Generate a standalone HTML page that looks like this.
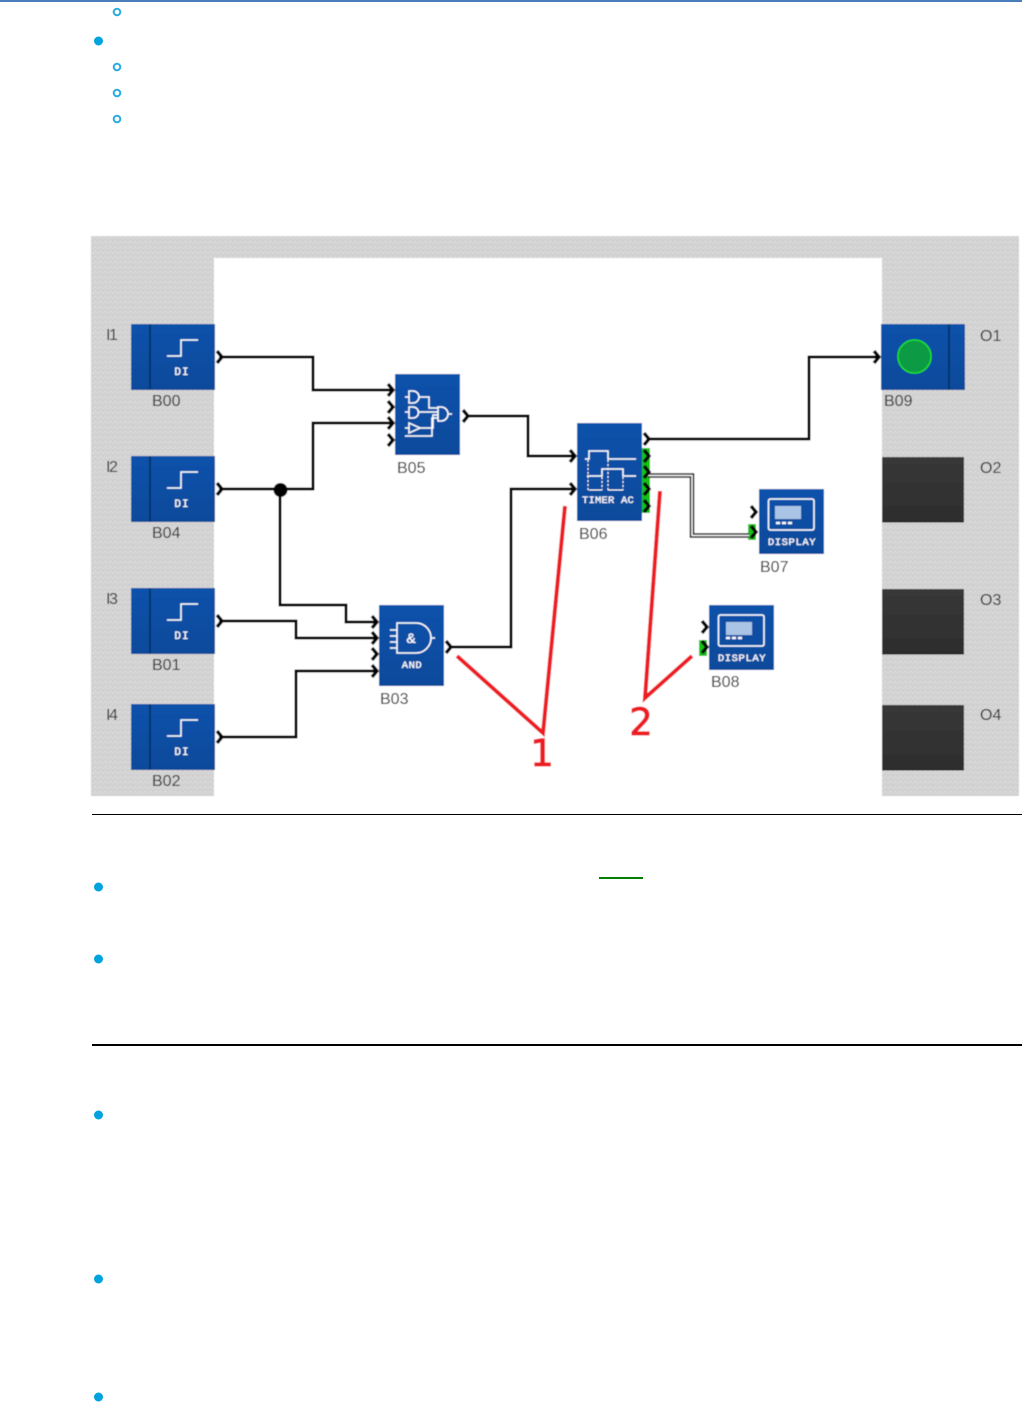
<!DOCTYPE html>
<html>
<head>
<meta charset="utf-8">
<style>
html,body{margin:0;padding:0;background:#fff;width:1022px;height:1405px;overflow:hidden}
svg{display:block}
.lb{font:16px "Liberation Sans",sans-serif;fill:#2a2a2a}
.ic{font:11px "Liberation Mono",monospace;fill:#fff;stroke:#fff;stroke-width:.25;text-anchor:middle;letter-spacing:1px}
.w{fill:none;stroke:#000;stroke-width:3;stroke-linejoin:miter}
.c{fill:none;stroke:#000;stroke-width:3.4}
.i{fill:none;stroke:#fff;stroke-width:1.5}
.s{fill:none;stroke:#06366f;stroke-width:2}
.r{fill:none;stroke:#ed1c24;stroke-width:4;stroke-linejoin:miter}
.d{font:37px "DejaVu Sans",sans-serif;fill:#ed1c24;stroke:#ed1c24;stroke-width:1;text-anchor:middle}
</style>
</head>
<body>
<svg width="1022" height="1405" viewBox="0 0 1022 1405" xmlns="http://www.w3.org/2000/svg">
<defs>
<pattern id="n" width="5" height="5" patternUnits="userSpaceOnUse">
<rect width="5" height="5" fill="#d3d3d3"/>
<rect x="0" y="1" width="1" height="1" fill="#e6e6e6"/>
<rect x="3" y="3" width="1" height="1" fill="#e2e2e2"/>
<rect x="2" y="0" width="1" height="1" fill="#c6c6c6"/>
<rect x="4" y="4" width="1" height="1" fill="#c4c4c4"/>
</pattern>
<linearGradient id="b" x1="0" y1="0" x2="0" y2="1">
<stop offset="0" stop-color="#0a52ab"/>
<stop offset="1" stop-color="#0b4a9b"/>
</linearGradient>
<linearGradient id="k" x1="0" y1="0" x2="0" y2="1">
<stop offset="0" stop-color="#383838"/>
<stop offset="1" stop-color="#2d2d2d"/>
</linearGradient>
<filter id="soft" filterUnits="userSpaceOnUse" x="80" y="226" width="942" height="580">
<feGaussianBlur stdDeviation="0.4"/>
</filter>
</defs>

<rect x="0" y="0" width="1022" height="2" fill="#4a7ebb"/>

<!-- bullets -->
<g fill="none" stroke="#29abe2" stroke-width="2">
<circle cx="117" cy="12" r="3.3"/>
<circle cx="117" cy="67" r="3.3"/>
<circle cx="117" cy="93" r="3.3"/>
<circle cx="117" cy="119" r="3.3"/>
</g>
<g fill="#00a3e0">
<circle cx="98.500" cy="41" r="4.500"/>
<circle cx="98.500" cy="887" r="4.500"/>
<circle cx="98.500" cy="959" r="4.500"/>
<circle cx="98.500" cy="1115" r="4.500"/>
<circle cx="98.500" cy="1279" r="4.500"/>
<circle cx="98.500" cy="1397" r="4.500"/>
</g>

<g filter="url(#soft)">
<!-- panel -->
<rect x="91" y="236" width="928" height="560" fill="url(#n)"/>
<rect x="214" y="258" width="668" height="538" fill="#fff"/>

<!-- blocks -->
<g fill="url(#b)">
<rect x="131" y="324" width="84" height="66"/>
<rect x="131" y="456" width="84" height="66"/>
<rect x="131" y="588" width="84" height="66"/>
<rect x="131" y="704" width="84" height="66"/>
<rect x="395" y="374" width="65" height="81"/>
<rect x="379" y="605" width="65" height="81"/>
<rect x="577" y="423" width="65" height="98"/>
<rect x="759" y="489" width="65" height="65"/>
<rect x="709" y="605" width="65" height="65"/>
<rect x="881" y="324" width="84" height="66"/>
</g>
<path class="s" d="M150,324V390M150,456V522M150,588V654M150,704V770M949,324V390"/>
<path class="i" d="M167,356H181V340H198M167,488H181V472H198M167,620H181V604H198M167,736H181V720H198"/>
<text class="ic" x="182" y="375">DI</text>
<text class="ic" x="182" y="507">DI</text>
<text class="ic" x="182" y="639">DI</text>
<text class="ic" x="182" y="755">DI</text>

<!-- output dark blocks -->
<g fill="url(#k)">
<rect x="882" y="457" width="82" height="65"/>
<rect x="882" y="589" width="82" height="65"/>
<rect x="882" y="705" width="82" height="65"/>
</g>
<path d="M882,522H964M882,654H964M882,770H964" stroke="#111" stroke-width="1"/>

<!-- lamp -->
<circle cx="914.500" cy="356.500" r="16.500" fill="#0e9a45" stroke="#1fe01f" stroke-width="1.500"/>

<!-- B05 icon -->
<path class="i" d="M405,397H409M405,412H409M405,428H409M409,391H413A6,6 0 0 1 413,403H409ZM409,407H413A5.500,5.500 0 0 1 413,418H409ZM409,423V433L420,428Z"/>
<path class="i" d="M419,397H429V408H438M419,412H438M420,428H433V415H438M405,436H432V418H438M438,407H441A7,7 0 0 1 441,421H438ZM448,414H452"/>

<!-- B03 icon -->
<path class="i" d="M397,623H416A15,15 0 0 1 416,653H397ZM390,630H397M390,636H397M390,642H397M390,648H397M431,638H435"/>
<text x="411" y="643" font-family="Liberation Sans,sans-serif" font-size="14" fill="#fff" stroke="#fff" stroke-width=".3" text-anchor="middle">&amp;</text>
<text class="ic" x="412" y="668" style="letter-spacing:.5px;font-size:10.500px">AND</text>

<!-- B06 icon -->
<path class="i" d="M585,459H589V451H608V459H636M587,476H602V469H623V476H636"/>
<path d="M588,460V490M602,477V490M608,460V490M623,477V490" fill="none" stroke="#fff" stroke-width="1" stroke-dasharray="2 2"/>
<path d="M589,490H602M608,490H623" fill="none" stroke="#fff" stroke-width="1"/>
<text class="ic" x="608" y="503" style="letter-spacing:.2px;font-size:10.500px">TIMER AC</text>

<!-- Display icons -->
<g>
<rect x="768.500" y="499" width="45.500" height="31" rx="2" class="i"/>
<rect x="775" y="506" width="26" height="13" fill="#a9c4e4"/>
<path d="M776,523H780M782,523H786M788,523H792" stroke="#fff" stroke-width="2.500"/>
<text class="ic" x="792" y="545" style="letter-spacing:.6px;font-size:10.500px">DISPLAY</text>
</g>
<g>
<rect x="718.500" y="615" width="45.500" height="31" rx="2" class="i"/>
<rect x="726" y="622" width="26" height="13" fill="#a9c4e4"/>
<path d="M726,638H730M732,638H736M738,638H742" stroke="#fff" stroke-width="2.500"/>
<text class="ic" x="742" y="661" style="letter-spacing:.6px;font-size:10.500px">DISPLAY</text>
</g>

<!-- green ports -->
<g fill="#12c012">
<rect x="642" y="448" width="8" height="65"/>
<rect x="748" y="524" width="8" height="16"/>
<rect x="699" y="640" width="8" height="16"/>
</g>

<!-- double wire -->
<path d="M648,475.500H692V535.500H749" fill="none" stroke="#000" stroke-width="4.500"/>
<path d="M648,475.500H692V535.500H749" fill="none" stroke="#fff" stroke-width="1.500"/>

<!-- wires -->
<path class="w" d="M219,357H313V390H393"/>
<path class="w" d="M219,489H313V423H393"/>
<path class="w" d="M280,490V605H346V622H377"/>
<path class="w" d="M219,621H296V638H377"/>
<path class="w" d="M219,737H296V671H377"/>
<path class="w" d="M449,647H511V489H575"/>
<path class="w" d="M466,416H528V456H575"/>
<path class="w" d="M647,439H809V357H879"/>
<circle cx="280.500" cy="490" r="7" fill="#000"/>

<!-- chevrons -->
<path class="c" d="M217,351L222,357L217,363M217,483L222,489L217,495M217,615L222,621L217,627M217,731L222,737L217,743"/>
<path class="c" d="M388,384L393,390L388,396M388,401L393,407L388,413M388,417L393,423L388,429M388,434L393,440L388,446"/>
<path class="c" d="M463,410L468,416L463,422"/>
<path class="c" d="M372,616L377,622L372,628M372,632L377,638L372,644M372,648L377,654L372,660M372,665L377,671L372,677"/>
<path class="c" d="M446,641L451,647L446,653"/>
<path class="c" d="M570,450L575,456L570,462M570,483L575,489L570,495"/>
<path class="c" d="M644,433L649,439L644,445M644,450L649,456L644,462M644,466L649,472L644,478M644,483L649,489L644,495M644,500L649,506L644,512"/>
<path class="c" d="M751,506L756,512L751,518M751,526L756,532L751,538M702,621L707,627L702,633M702,641L707,647L702,653"/>
<path class="c" d="M874,351L879,357L874,363"/>

<!-- red annotations -->
<path class="r" d="M565,506L543,733L457,656"/>
<path class="r" d="M660,491L645,698L692,656"/>
<text class="d" x="542" y="766">1</text>
<text class="d" x="641" y="735">2</text>

<!-- labels -->
<text class="lb" x="152" y="406">B00</text>
<text class="lb" x="152" y="538">B04</text>
<text class="lb" x="152" y="670">B01</text>
<text class="lb" x="152" y="786">B02</text>
<text class="lb" x="397" y="473">B05</text>
<text class="lb" x="380" y="704">B03</text>
<text class="lb" x="579" y="539">B06</text>
<text class="lb" x="760" y="572">B07</text>
<text class="lb" x="711" y="687">B08</text>
<text class="lb" x="884" y="406">B09</text>
<text class="lb" x="106" y="340" style="letter-spacing:-1.500px">I1</text>
<text class="lb" x="106" y="472" style="letter-spacing:-1.500px">I2</text>
<text class="lb" x="106" y="604" style="letter-spacing:-1.500px">I3</text>
<text class="lb" x="106" y="720" style="letter-spacing:-1.500px">I4</text>
<text class="lb" x="980" y="341">O1</text>
<text class="lb" x="980" y="473">O2</text>
<text class="lb" x="980" y="605">O3</text>
<text class="lb" x="980" y="720">O4</text>
</g>

<!-- rules -->
<rect x="92" y="814" width="930" height="1" fill="#000"/>
<rect x="92" y="1044" width="930" height="2" fill="#000"/>
<rect x="599" y="877" width="44" height="2" fill="#008000"/>
</svg>
</body>
</html>
